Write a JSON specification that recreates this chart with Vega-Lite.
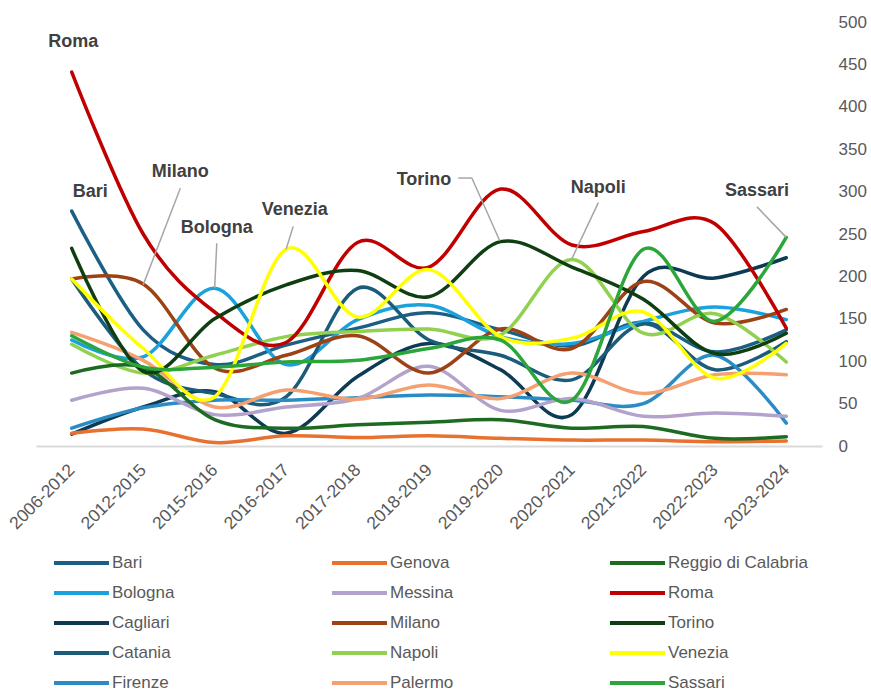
{
  "$schema": "https://vega.github.io/schema/vega-lite/v6.json",
  "width": 786,
  "height": 424,
  "autosize": {"type": "none"},
  "padding": {"left": 36, "top": 22, "right": 49, "bottom": 245},
  "background": "white",
  "config": {
    "view": {"stroke": null},
    "font": "Liberation Sans",
    "axis": {"labelFont": "Liberation Sans"},
    "legend": {"labelFont": "Liberation Sans"}
  },
  "datasets": {
    "series": [
      {"city":"Bari","p":"2006-2012","v":277},{"city":"Bari","p":"2012-2015","v":137},{"city":"Bari","p":"2015-2016","v":96},{"city":"Bari","p":"2016-2017","v":119},{"city":"Bari","p":"2017-2018","v":139},{"city":"Bari","p":"2018-2019","v":157},{"city":"Bari","p":"2019-2020","v":137},{"city":"Bari","p":"2020-2021","v":118},{"city":"Bari","p":"2021-2022","v":146},{"city":"Bari","p":"2022-2023","v":111},{"city":"Bari","p":"2023-2024","v":137},
      {"city":"Bologna","p":"2006-2012","v":125},{"city":"Bologna","p":"2012-2015","v":105},{"city":"Bologna","p":"2015-2016","v":186},{"city":"Bologna","p":"2016-2017","v":96},{"city":"Bologna","p":"2017-2018","v":149},{"city":"Bologna","p":"2018-2019","v":166},{"city":"Bologna","p":"2019-2020","v":129},{"city":"Bologna","p":"2020-2021","v":121},{"city":"Bologna","p":"2021-2022","v":147},{"city":"Bologna","p":"2022-2023","v":164},{"city":"Bologna","p":"2023-2024","v":149},
      {"city":"Cagliari","p":"2006-2012","v":14},{"city":"Cagliari","p":"2012-2015","v":46},{"city":"Cagliari","p":"2015-2016","v":64},{"city":"Cagliari","p":"2016-2017","v":15},{"city":"Cagliari","p":"2017-2018","v":82},{"city":"Cagliari","p":"2018-2019","v":121},{"city":"Cagliari","p":"2019-2020","v":90},{"city":"Cagliari","p":"2020-2021","v":37},{"city":"Cagliari","p":"2021-2022","v":200},{"city":"Cagliari","p":"2022-2023","v":198},{"city":"Cagliari","p":"2023-2024","v":222},
      {"city":"Catania","p":"2006-2012","v":197},{"city":"Catania","p":"2012-2015","v":90},{"city":"Catania","p":"2015-2016","v":62},{"city":"Catania","p":"2016-2017","v":58},{"city":"Catania","p":"2017-2018","v":186},{"city":"Catania","p":"2018-2019","v":125},{"city":"Catania","p":"2019-2020","v":107},{"city":"Catania","p":"2020-2021","v":78},{"city":"Catania","p":"2021-2022","v":144},{"city":"Catania","p":"2022-2023","v":90},{"city":"Catania","p":"2023-2024","v":123},
      {"city":"Firenze","p":"2006-2012","v":21},{"city":"Firenze","p":"2012-2015","v":45},{"city":"Firenze","p":"2015-2016","v":54},{"city":"Firenze","p":"2016-2017","v":54},{"city":"Firenze","p":"2017-2018","v":57},{"city":"Firenze","p":"2018-2019","v":60},{"city":"Firenze","p":"2019-2020","v":58},{"city":"Firenze","p":"2020-2021","v":54},{"city":"Firenze","p":"2021-2022","v":50},{"city":"Firenze","p":"2022-2023","v":107},{"city":"Firenze","p":"2023-2024","v":27},
      {"city":"Genova","p":"2006-2012","v":15},{"city":"Genova","p":"2012-2015","v":20},{"city":"Genova","p":"2015-2016","v":4},{"city":"Genova","p":"2016-2017","v":12},{"city":"Genova","p":"2017-2018","v":10},{"city":"Genova","p":"2018-2019","v":12},{"city":"Genova","p":"2019-2020","v":9},{"city":"Genova","p":"2020-2021","v":7},{"city":"Genova","p":"2021-2022","v":7},{"city":"Genova","p":"2022-2023","v":5},{"city":"Genova","p":"2023-2024","v":6},
      {"city":"Messina","p":"2006-2012","v":54},{"city":"Messina","p":"2012-2015","v":68},{"city":"Messina","p":"2015-2016","v":37},{"city":"Messina","p":"2016-2017","v":46},{"city":"Messina","p":"2017-2018","v":56},{"city":"Messina","p":"2018-2019","v":94},{"city":"Messina","p":"2019-2020","v":42},{"city":"Messina","p":"2020-2021","v":56},{"city":"Messina","p":"2021-2022","v":35},{"city":"Messina","p":"2022-2023","v":39},{"city":"Messina","p":"2023-2024","v":35},
      {"city":"Milano","p":"2006-2012","v":197},{"city":"Milano","p":"2012-2015","v":191},{"city":"Milano","p":"2015-2016","v":92},{"city":"Milano","p":"2016-2017","v":107},{"city":"Milano","p":"2017-2018","v":130},{"city":"Milano","p":"2018-2019","v":86},{"city":"Milano","p":"2019-2020","v":138},{"city":"Milano","p":"2020-2021","v":115},{"city":"Milano","p":"2021-2022","v":194},{"city":"Milano","p":"2022-2023","v":145},{"city":"Milano","p":"2023-2024","v":161},
      {"city":"Napoli","p":"2006-2012","v":120},{"city":"Napoli","p":"2012-2015","v":86},{"city":"Napoli","p":"2015-2016","v":107},{"city":"Napoli","p":"2016-2017","v":129},{"city":"Napoli","p":"2017-2018","v":135},{"city":"Napoli","p":"2018-2019","v":138},{"city":"Napoli","p":"2019-2020","v":131},{"city":"Napoli","p":"2020-2021","v":220},{"city":"Napoli","p":"2021-2022","v":133},{"city":"Napoli","p":"2022-2023","v":156},{"city":"Napoli","p":"2023-2024","v":99},
      {"city":"Palermo","p":"2006-2012","v":134},{"city":"Palermo","p":"2012-2015","v":101},{"city":"Palermo","p":"2015-2016","v":46},{"city":"Palermo","p":"2016-2017","v":66},{"city":"Palermo","p":"2017-2018","v":55},{"city":"Palermo","p":"2018-2019","v":72},{"city":"Palermo","p":"2019-2020","v":56},{"city":"Palermo","p":"2020-2021","v":86},{"city":"Palermo","p":"2021-2022","v":62},{"city":"Palermo","p":"2022-2023","v":84},{"city":"Palermo","p":"2023-2024","v":84},
      {"city":"Reggio di Calabria","p":"2006-2012","v":86},{"city":"Reggio di Calabria","p":"2012-2015","v":93},{"city":"Reggio di Calabria","p":"2015-2016","v":31},{"city":"Reggio di Calabria","p":"2016-2017","v":21},{"city":"Reggio di Calabria","p":"2017-2018","v":25},{"city":"Reggio di Calabria","p":"2018-2019","v":28},{"city":"Reggio di Calabria","p":"2019-2020","v":31},{"city":"Reggio di Calabria","p":"2020-2021","v":21},{"city":"Reggio di Calabria","p":"2021-2022","v":23},{"city":"Reggio di Calabria","p":"2022-2023","v":9},{"city":"Reggio di Calabria","p":"2023-2024","v":11},
      {"city":"Roma","p":"2006-2012","v":441},{"city":"Roma","p":"2012-2015","v":250},{"city":"Roma","p":"2015-2016","v":158},{"city":"Roma","p":"2016-2017","v":122},{"city":"Roma","p":"2017-2018","v":240},{"city":"Roma","p":"2018-2019","v":211},{"city":"Roma","p":"2019-2020","v":303},{"city":"Roma","p":"2020-2021","v":237},{"city":"Roma","p":"2021-2022","v":253},{"city":"Roma","p":"2022-2023","v":262},{"city":"Roma","p":"2023-2024","v":139},
      {"city":"Torino","p":"2006-2012","v":233},{"city":"Torino","p":"2012-2015","v":88},{"city":"Torino","p":"2015-2016","v":150},{"city":"Torino","p":"2016-2017","v":190},{"city":"Torino","p":"2017-2018","v":207},{"city":"Torino","p":"2018-2019","v":176},{"city":"Torino","p":"2019-2020","v":241},{"city":"Torino","p":"2020-2021","v":211},{"city":"Torino","p":"2021-2022","v":173},{"city":"Torino","p":"2022-2023","v":109},{"city":"Torino","p":"2023-2024","v":133},
      {"city":"Venezia","p":"2006-2012","v":197},{"city":"Venezia","p":"2012-2015","v":115},{"city":"Venezia","p":"2015-2016","v":58},{"city":"Venezia","p":"2016-2017","v":232},{"city":"Venezia","p":"2017-2018","v":152},{"city":"Venezia","p":"2018-2019","v":208},{"city":"Venezia","p":"2019-2020","v":129},{"city":"Venezia","p":"2020-2021","v":127},{"city":"Venezia","p":"2021-2022","v":158},{"city":"Venezia","p":"2022-2023","v":80},{"city":"Venezia","p":"2023-2024","v":121},
      {"city":"Sassari","p":"2006-2012","v":130},{"city":"Sassari","p":"2012-2015","v":93},{"city":"Sassari","p":"2015-2016","v":93},{"city":"Sassari","p":"2016-2017","v":99},{"city":"Sassari","p":"2017-2018","v":101},{"city":"Sassari","p":"2018-2019","v":115},{"city":"Sassari","p":"2019-2020","v":125},{"city":"Sassari","p":"2020-2021","v":54},{"city":"Sassari","p":"2021-2022","v":232},{"city":"Sassari","p":"2022-2023","v":147},{"city":"Sassari","p":"2023-2024","v":246}
    ],
    "labels": [
      {"name":"Roma","u":0.02,"v":476},
      {"name":"Bari","u":0.26,"v":300},
      {"name":"Milano","u":1.52,"v":323},
      {"name":"Bologna","u":2.03,"v":257},
      {"name":"Venezia","u":3.12,"v":278},
      {"name":"Torino","u":4.93,"v":314},
      {"name":"Napoli","u":7.37,"v":304},
      {"name":"Sassari","u":9.59,"v":301}
    ],
    "leaders": [
      {"u":1.52,"v":304,"u2":1.0,"v2":190},
      {"u":2.03,"v":239,"u2":2.0,"v2":186},
      {"u":3.1,"v":259,"u2":3.0,"v2":232},
      {"u":5.41,"v":316,"u2":5.6,"v2":316},
      {"u":5.6,"v":316,"u2":5.99,"v2":242},
      {"u":7.37,"v":287,"u2":7.0,"v2":221},
      {"u":9.59,"v":282,"u2":10.0,"v2":246}
    ]
  },
  "layer": [
    {
      "data": {"name": "series"},
      "mark": {"type": "line", "interpolate": "cardinal", "strokeWidth": 3.5, "strokeCap": "round", "strokeJoin": "round"},
      "encoding": {
        "x": {
          "field": "p", "type": "ordinal", "sort": null,
          "scale": {"paddingOuter": 0.5},
          "axis": {"title": null, "labelAngle": -45, "labelAlign": "right", "labelBaseline": "middle", "labelFontSize": 17.5, "labelColor": "#595959", "ticks": false, "domainColor": "#d9d9d9", "domainWidth": 2, "labelPadding": 21, "grid": false}
        },
        "y": {
          "field": "v", "type": "quantitative",
          "scale": {"domain": [0, 500], "nice": false},
          "axis": {"orient": "right", "title": null, "domain": false, "ticks": false, "grid": false, "values": [0,50,100,150,200,250,300,350,400,450,500], "labelAlign": "left", "labelPadding": 16, "labelFontSize": 17, "labelColor": "#595959"}
        },
        "color": {
          "field": "city", "type": "nominal",
          "scale": {
            "domain": ["Bari","Bologna","Cagliari","Catania","Firenze","Genova","Messina","Milano","Napoli","Palermo","Reggio di Calabria","Roma","Torino","Venezia","Sassari"],
            "range": ["#1b5f85","#1ba1dc","#0e3b54","#1a5c7a","#2b8cc4","#e87130","#b3a2cc","#9c4215","#92d050","#f4a070","#1d6b21","#c00000","#0f3f10","#ffff00","#2ca63a"]
          },
          "legend": {
            "title": null, "orient": "none", "legendX": 16, "legendY": 532, "columns": 3, "gridAlign": "all",
            "columnPadding": 78, "rowPadding": 12, "padding": 0, "clipHeight": 18,
            "symbolType": "stroke", "symbolSize": 3025, "symbolStrokeWidth": 4,
            "labelFontSize": 17, "labelColor": "#595959", "labelOffset": 1, "labelLimit": 200
          }
        }
      }
    },
    {
      "data": {"name": "leaders"},
      "mark": {"type": "rule", "color": "#a6a6a6", "strokeWidth": 1.5},
      "encoding": {
        "x": {"field": "u", "type": "quantitative", "scale": {"domain": [-0.5, 10.5], "nice": false, "zero": false}, "axis": null},
        "x2": {"field": "u2"},
        "y": {"field": "v", "type": "quantitative"},
        "y2": {"field": "v2"}
      }
    },
    {
      "data": {"name": "labels"},
      "mark": {"type": "text", "fontSize": 18, "fontWeight": "bold", "color": "#404040", "align": "center", "baseline": "middle"},
      "encoding": {
        "x": {"field": "u", "type": "quantitative", "scale": {"domain": [-0.5, 10.5], "nice": false, "zero": false}, "axis": null},
        "y": {"field": "v", "type": "quantitative"},
        "text": {"field": "name"}
      }
    }
  ],
  "resolve": {"scale": {"x": "independent"}}
}
